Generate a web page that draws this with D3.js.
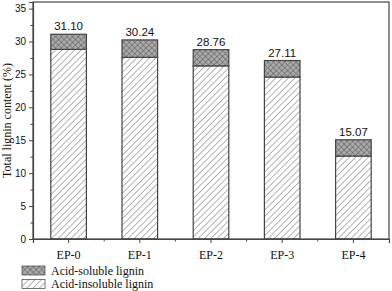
<!DOCTYPE html>
<html>
<head>
<meta charset="utf-8">
<script src="https://cdn.jsdelivr.net/npm/d3@7"></script>
<style>
  html, body { margin: 0; padding: 0; background: #fff; }
</style>
</head>
<body>
<div id="chart"></div>
<script>
const categories = ['EP-0', 'EP-1', 'EP-2', 'EP-3', 'EP-4']
const insoluble = [28.80, 27.60, 26.30, 24.60, 12.60]
const totals = [31.10, 30.24, 28.76, 27.11, 15.07]
const totalLabels = ['31.10', '30.24', '28.76', '27.11', '15.07']
const yTicks = [0, 5, 10, 15, 20, 25, 30, 35]
const seriesNames = ['Acid-soluble lignin', 'Acid-insoluble lignin']

const width = 392
const height = 291
const margin = { top: 2, right: 3, bottom: 52, left: 33 }
const innerW = width - margin.left - margin.right
const innerH = height - margin.top - margin.bottom

const svg = d3.select('#chart')
  .append('svg')
  .attr('width', width)
  .attr('height', height)

// hatch patterns
const defs = svg.append('defs')
const diag = defs.append('pattern')
  .attr('id', 'diag')
  .attr('patternUnits', 'userSpaceOnUse')
  .attr('width', 4.5)
  .attr('height', 4.5)
  .attr('patternTransform', 'rotate(45)')
diag.append('rect').attr('width', 4.5).attr('height', 4.5).attr('fill', '#fff')
diag.append('line')
  .attr('x1', 0).attr('y1', 0).attr('x2', 0).attr('y2', 4.5)
  .attr('stroke', '#666').attr('stroke-width', 1)

const cross = defs.append('pattern')
  .attr('id', 'cross')
  .attr('patternUnits', 'userSpaceOnUse')
  .attr('width', 4)
  .attr('height', 4)
  .attr('patternTransform', 'rotate(45)')
cross.append('rect').attr('width', 4).attr('height', 4).attr('fill', '#ababab')
cross.append('line')
  .attr('x1', 0).attr('y1', 0).attr('x2', 0).attr('y2', 4)
  .attr('stroke', '#555').attr('stroke-width', 1)
cross.append('line')
  .attr('x1', 0).attr('y1', 0).attr('x2', 4).attr('y2', 0)
  .attr('stroke', '#555').attr('stroke-width', 1)

const g = svg.append('g')
  .attr('transform', `translate(${margin.left}, ${margin.top})`)

const x = d3.scaleBand()
  .domain(categories)
  .range([0, innerW])
  .paddingInner(0.5)
  .paddingOuter(0.25)

const y = d3.scaleLinear()
  .domain([0, 36])
  .range([innerH, 0])

// bars: insoluble at bottom, soluble on top
g.selectAll('rect.insol')
  .data(categories)
  .enter()
  .append('rect')
  .attr('class', 'insol')
  .attr('x', d => x(d))
  .attr('width', x.bandwidth())
  .attr('y', (d, i) => y(insoluble[i]))
  .attr('height', (d, i) => y(0) - y(insoluble[i]))
  .attr('fill', 'url(#diag)')
  .attr('stroke', '#444')
  .attr('stroke-width', 1.2)

g.selectAll('rect.sol')
  .data(categories)
  .enter()
  .append('rect')
  .attr('class', 'sol')
  .attr('x', d => x(d))
  .attr('width', x.bandwidth())
  .attr('y', (d, i) => y(totals[i]))
  .attr('height', (d, i) => y(insoluble[i]) - y(totals[i]))
  .attr('fill', 'url(#cross)')
  .attr('stroke', '#444')
  .attr('stroke-width', 1.2)

g.selectAll('text.total')
  .data(categories)
  .enter()
  .append('text')
  .attr('class', 'total')
  .attr('x', d => x(d) + x.bandwidth() / 2)
  .attr('y', (d, i) => y(totals[i]) - 4)
  .attr('text-anchor', 'middle')
  .attr('font-family', 'Arial, "Liberation Sans", sans-serif')
  .attr('font-size', 11.5)
  .attr('fill', '#111')
  .text((d, i) => totalLabels[i])

// frame
g.append('rect')
  .attr('width', innerW)
  .attr('height', innerH)
  .attr('fill', 'none')
  .attr('stroke', '#444')
  .attr('stroke-width', 1.2)

// y axis with minor ticks
const yMinor = d3.range(2.5, 36, 5)
g.append('g')
  .call(d3.axisLeft(y).tickValues(yMinor).tickSize(2.5).tickFormat(''))
  .call(a => a.select('.domain').remove())
  .selectAll('line').attr('stroke', '#444')

g.append('g')
  .call(d3.axisLeft(y).tickValues(yTicks).tickSize(4).tickPadding(3))
  .call(a => a.select('.domain').attr('stroke', '#444').attr('stroke-width', 1.2))
  .call(a => a.selectAll('line').attr('stroke', '#444'))
  .selectAll('text')
  .attr('font-family', 'Arial, "Liberation Sans", sans-serif')
  .attr('font-size', 10)
  .attr('fill', '#111')

// x axis: major ticks at bars, minor ticks between
const xMid = categories.map(c => x(c) + x.bandwidth() / 2)
const minorX = xMid.slice(0, -1).map((v, i) => (v + xMid[i + 1]) / 2)

const xAxis = g.append('g')
  .attr('transform', `translate(0, ${innerH})`)
  .call(d3.axisBottom(x).tickSize(4).tickPadding(7))
xAxis.select('.domain').attr('stroke', '#444').attr('stroke-width', 1.2)
xAxis.selectAll('line').attr('stroke', '#444')
xAxis.selectAll('text')
  .attr('font-family', '"Liberation Serif", "Times New Roman", serif')
  .attr('font-size', 12)
  .attr('fill', '#111')

g.append('g')
  .attr('transform', `translate(0, ${innerH})`)
  .selectAll('line')
  .data(minorX)
  .enter()
  .append('line')
  .attr('x1', d => d).attr('x2', d => d)
  .attr('y1', 0).attr('y2', 2.5)
  .attr('stroke', '#444')

// y title
svg.append('text')
  .attr('transform', `translate(11, ${margin.top + innerH / 2}) rotate(-90)`)
  .attr('text-anchor', 'middle')
  .attr('font-family', '"Liberation Serif", "Times New Roman", serif')
  .attr('font-size', 12)
  .attr('fill', '#111')
  .text('Total lignin content (%)')

// legend
const legend = svg.append('g')
  .attr('transform', 'translate(22, 266)')
const fills = ['url(#cross)', 'url(#diag)']
seriesNames.forEach((name, i) => {
  const row = legend.append('g').attr('transform', `translate(0, ${i * 13.5})`)
  row.append('rect')
    .attr('width', 23)
    .attr('height', 9)
    .attr('fill', fills[i])
    .attr('stroke', '#555')
    .attr('stroke-width', 0.8)
  row.append('text')
    .attr('x', 29)
    .attr('y', 8.5)
    .attr('font-family', '"Liberation Serif", "Times New Roman", serif')
    .attr('font-size', 12)
    .attr('fill', '#111')
    .text(name)
})
</script>
</body>
</html>
